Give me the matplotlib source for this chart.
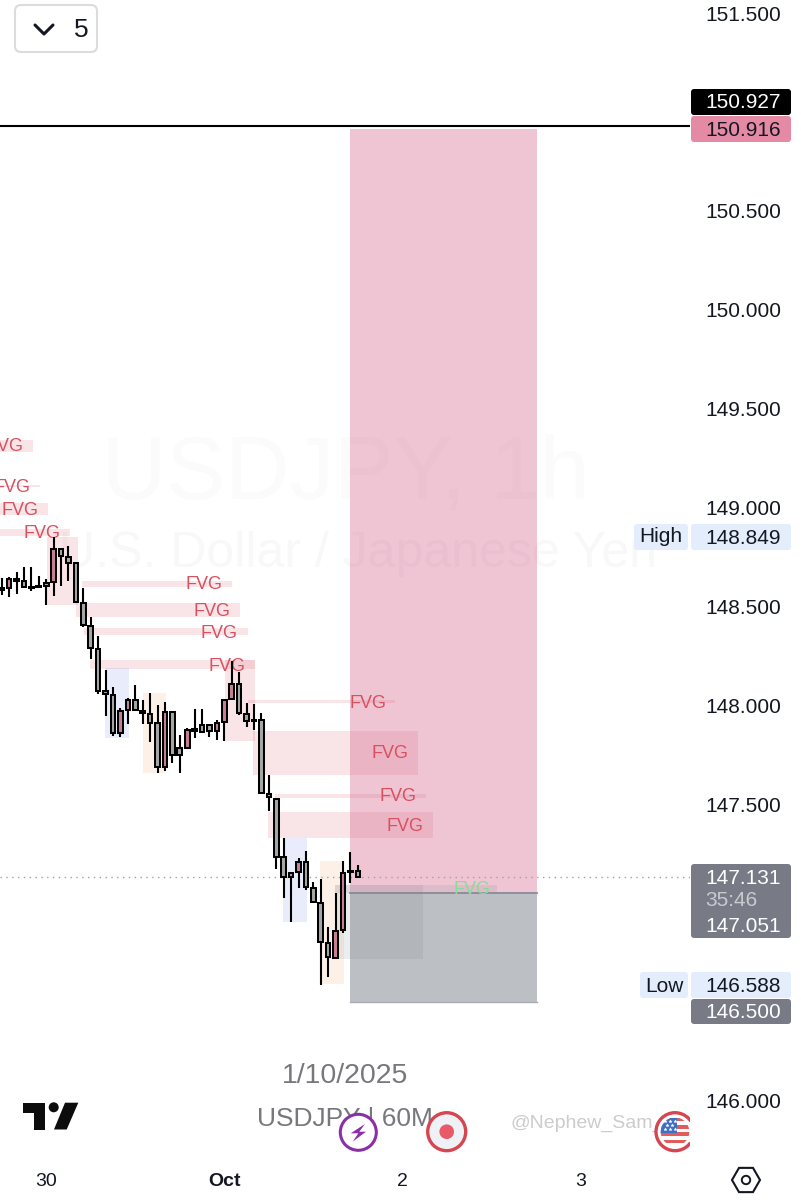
import numpy as np
import matplotlib
matplotlib.use("Agg")
import matplotlib.pyplot as plt
from matplotlib.patches import Rectangle, FancyBboxPatch, Circle, Polygon

plt.rcParams['font.family'] = ['Liberation Sans', 'DejaVu Sans']

# ---------------- DATA ----------------
bars = list(range(-30, 19))  # hourly bars, 0 = Oct 1 00:00
opens = [148.592, 148.592, 148.637, 148.627, 148.600, 148.604, 148.621, 148.622, 148.792, 148.750,
         148.718, 148.518, 148.403, 148.287, 148.071, 148.051, 147.862, 147.977, 148.027, 147.970,
         147.958, 147.909, 147.690, 147.968, 147.783, 147.786, 147.879, 147.901, 147.903, 147.872,
         147.914, 148.031, 148.108, 147.955, 147.928, 147.926, 147.552, 147.527, 147.232, 147.151,
         147.158, 147.207, 147.079, 147.003, 146.797, 146.723, 146.865, 147.161, 147.161]
highs = [148.642, 148.647, 148.676, 148.698, 148.698, 148.654, 148.637, 148.849, 148.794, 148.807,
         148.722, 148.595, 148.445, 148.351, 148.179, 148.095, 147.985, 148.039, 148.101, 148.027,
         148.064, 148.002, 148.019, 147.968, 147.850, 147.884, 147.980, 147.980, 147.906, 147.926,
         148.031, 148.226, 148.171, 148.014, 148.005, 147.960, 147.648, 147.530, 147.328, 147.151,
         147.227, 147.266, 147.109, 147.121, 146.878, 147.053, 147.213, 147.257, 147.193]
lows = [148.558, 148.550, 148.563, 148.595, 148.580, 148.600, 148.508, 148.555, 148.605, 148.631,
        148.519, 148.395, 148.233, 148.056, 147.948, 147.845, 147.839, 147.906, 147.973, 147.904,
        147.817, 147.660, 147.668, 147.710, 147.657, 147.778, 147.833, 147.867, 147.839, 147.825,
        147.820, 148.031, 147.951, 147.892, 147.876, 147.555, 147.468, 147.171, 147.028, 146.907,
        147.075, 147.067, 147.003, 146.588, 146.625, 146.716, 146.851, 147.100, 147.131]
closes = [148.583, 148.637, 148.631, 148.600, 148.592, 148.600, 148.604, 148.792, 148.755, 148.722,
          148.521, 148.408, 148.292, 148.075, 148.056, 147.859, 147.972, 148.027, 147.977, 147.963,
          147.913, 147.687, 147.968, 147.749, 147.749, 147.876, 147.872, 147.867, 147.872, 147.909,
          148.027, 148.108, 147.960, 147.921, 147.921, 147.559, 147.535, 147.235, 147.131, 147.131,
          147.208, 147.084, 147.006, 146.802, 146.726, 146.861, 147.151, 147.156, 147.134]

# zones: left bar, right bar, top price, bottom price
fvg_zones = [(-40, -25.8, 149.342, 149.283), (-40, -24.8, 149.114, 149.104), (-40, -23.8, 149.023, 148.963),
             (-40, -20.8, 148.892, 148.856), (-23.9, -19.7, 148.851, 148.508), (-19.2, 1.0, 148.630, 148.599),
             (-20, 2.1, 148.518, 148.447), (-18.9, 3.2, 148.391, 148.356), (-18.1, 4.1, 148.230, 148.184),
             (0.1, 4.1, 148.230, 147.820), (3.2, 23, 148.027, 148.012), (3.9, 26.1, 147.871, 147.648),
             (6.8, 27.2, 147.552, 147.532), (5.9, 28.1, 147.461, 147.330)]
blue_zones = [(-16.1, -12.8, 148.189, 147.835), (7.9, 11.1, 147.330, 146.905)]
orange_zones = [(-11, -7.9, 148.063, 147.658), (12.9, 16.1, 147.213, 146.592)]
gray_zones = [(14.9, 26.8, 147.092, 146.718), (14.9, 36.8, 147.092, 147.051)]
fvg_label_x = [-29.6, -28.6, -27.6, -24.6, -2.7, -1.7, -0.65, 0.36, 19.4, 22.3, 23.4, 24.4]
fvg_label_y = [149.308, 149.101, 148.985, 148.869, 148.611, 148.474, 148.363, 148.196, 148.009, 147.756, 147.539, 147.387]

stop_price = 150.916
entry_price = 147.051
target_price = 146.500
line_price = 150.927
last_price = 147.131
trade_left, trade_right = 17, 42.1

price_ticks = [151.5, 150.5, 150.0, 149.5, 149.0, 148.5, 148.0, 147.5, 146.0]
date_ticks = [-24, 0, 24, 48]
date_labels = ['30', 'Oct', '2', '3']

# ---------------- CHART ----------------
fig = plt.figure(figsize=(8.01, 12), dpi=100)
ax = fig.add_axes([0, 0, 690 / 801, 1])
ax.set_xlim((0 - 224.3) / 7.42, (690 - 224.3) / 7.42)
ax.set_ylim(146 - 99 / 197.8, 146 + 1101 / 197.8)
ax.axis('off')

# watermark
ax.text(16.3, 149.16, 'USDJPY, 1h', fontsize=64, color='#fbfbfb', ha='center', va='center', zorder=0)
ax.text(18, 148.765, 'U.S. Dollar / Japanese Yen', fontsize=36, color='#f8f8f8', ha='center', va='center', zorder=0)

def add_zones(zones, color, alpha, z=2):
    for left, right, top, bottom in zones:
        ax.add_patch(Rectangle((left, bottom), right - left, top - bottom, fc=color, ec='none', alpha=alpha, zorder=z))

add_zones(fvg_zones, '#dc5a6a', 0.16)
add_zones(blue_zones, '#5f7fe8', 0.14)
add_zones(orange_zones, '#f0903c', 0.12)

# long/short box
ax.add_patch(Rectangle((trade_left, entry_price), trade_right - trade_left, stop_price - entry_price,
                       fc='#d76e94', ec='none', alpha=0.4, zorder=3))
ax.add_patch(Rectangle((trade_left, target_price), trade_right - trade_left, entry_price - target_price,
                       fc='#7b818b', ec='none', alpha=0.5, zorder=3))
ax.plot([trade_left, trade_right], [entry_price, entry_price], color='#8a8d96', lw=1.3, zorder=3)
ax.plot([trade_left, trade_right], [target_price, target_price], color='#a8abb2', lw=1.0, zorder=3)
add_zones(gray_zones, '#7b818b', 0.14, z=3)

ax.axhline(line_price, color='black', lw=1.5, zorder=4)
ax.axhline(last_price, color='#a0a0a0', lw=1.0, ls=(0, (1, 3.2)), zorder=4)

for lx, ly in zip(fvg_label_x, fvg_label_y):
    ax.text(lx, ly, 'FVG', fontsize=13, color='#d9505f', ha='center', va='center', zorder=5)
ax.text(33.4, 147.069, 'FVG', fontsize=13, color='#86dd9a', ha='center', va='center', zorder=5)

# candles
x = np.array(bars)
o = np.array(opens)
c = np.array(closes)
body_colors = ['#c77f96' if cl >= op else '#a6a6a6' for op, cl in zip(opens, closes)]
ax.vlines(x, lows, highs, color='black', lw=1.5, zorder=6)
ax.bar(x, np.abs(c - o), bottom=np.minimum(o, c), width=0.62, color=body_colors, edgecolor='black', lw=1.45, zorder=7)

# ---------------- OVERLAY (pixel space) ----------------
ui = fig.add_axes([0, 0, 1, 1])
ui.set_xlim(0, 801)
ui.set_ylim(1200, 0)
ui.axis('off')
ui.patch.set_alpha(0)

def price_y(p):
    return ax.transData.transform((0, p))[1] * -1 + 1200

def box(x0, y0, x1, y1, color):
    ui.add_patch(FancyBboxPatch((x0 + 2, y0 + 2), x1 - x0 - 4, y1 - y0 - 4, boxstyle='round,pad=2,rounding_size=3',
                                fc=color, ec='none', zorder=2))

tick_kw = dict(fontsize=15, ha='center', va='center', zorder=3)
for p in price_ticks:
    ui.text(743.5, price_y(p) + 2, f'{p:.3f}', color='#131722', **tick_kw)

box(691, 89, 791, 115, '#000000')
ui.text(743.5, 103, f'{line_price:.3f}', color='white', **tick_kw)
box(691, 116, 791, 142, '#e58aa5')
ui.text(743.5, 130, f'{stop_price:.3f}', color='#131722', **tick_kw)

box(634, 524, 688, 550, '#e3edfb')
ui.text(661, 537, 'High', color='#131722', **tick_kw)
box(691, 524, 791, 550, '#e3edfb')
ui.text(743.5, 539, '148.849', color='#131722', **tick_kw)

box(691, 864, 791, 938, '#787b86')
ui.text(743.5, 878, '147.131', color='white', **tick_kw)
ui.text(731, 901, '35:46', color='#c9cacf', **tick_kw)
ui.text(743.5, 927, '147.051', color='white', **tick_kw)

box(640, 972, 688, 998, '#e3edfb')
ui.text(664, 986, 'Low', color='#131722', **tick_kw)
box(691, 972, 791, 998, '#e3edfb')
ui.text(743.5, 987, '146.588', color='#131722', **tick_kw)
box(691, 999, 791, 1024, '#787b86')
ui.text(743.5, 1013, '146.500', color='white', **tick_kw)

# time axis
for b, lab in zip(date_ticks, date_labels):
    px = ax.transData.transform((b, 146))[0]
    ui.text(px, 1181, lab, fontsize=14, color='#131722', ha='center', va='center',
            fontweight='bold' if lab == 'Oct' else 'normal')

# settings hexagon
ang = np.deg2rad(np.arange(0, 360, 60))
ui.add_patch(Polygon(np.c_[746 + 14 * np.cos(ang), 1180 + 14 * np.sin(ang)], closed=True, fc='white', ec='#131722', lw=1.5))
ui.add_patch(Circle((746, 1180), 4.2, fc='white', ec='#131722', lw=1.4))

# interval button
ui.add_patch(FancyBboxPatch((20, 10), 72, 37, boxstyle='round,pad=5,rounding_size=6', fc='white', ec='#dcdcdc', lw=1.5))
ui.plot([35, 44, 53], [25, 34, 25], color='#131722', lw=2.2, solid_capstyle='round')
ui.text(81, 30, '5', fontsize=19, color='#131722', ha='center', va='center')

# snapshot captions
ui.text(345, 1076, '1/10/2025', fontsize=20.5, color='#77787c', ha='center', va='center')
ui.text(345, 1119, 'USDJPY | 60M', fontsize=19, color='#77787c', ha='center', va='center')
ui.text(587, 1123, '@Nephew_Sam_', fontsize=14, color='#cccccc', ha='center', va='center')

# tradingview logo
ui.add_patch(Polygon([(22.7, 1102.7), (45, 1102.7), (45, 1129.5), (34, 1129.5), (34, 1112.7), (22.7, 1112.7)], closed=True, fc='#0c0c0c', ec='none'))
ui.add_patch(Circle((53.7, 1107.3), 5, fc='#0c0c0c', ec='none'))
ui.add_patch(Polygon([(65, 1102.7), (78.3, 1102.7), (66.7, 1129.5), (54, 1129.5)], closed=True, fc='#0c0c0c', ec='none'))

# event icons
ui.add_patch(Circle((358.3, 1132.3), 18, fc='white', ec='#8a2fa8', lw=2.2, zorder=5))
ui.add_patch(Polygon([(365, 1124), (350.7, 1133.3), (358.3, 1133.3), (352.7, 1141.7), (366, 1131.7), (359.3, 1131.7)],
                     closed=True, fc='#8a2fa8', ec='none', zorder=6))
ui.add_patch(Circle((446.7, 1131.7), 19, fc='#eef1f6', ec='#d64550', lw=2.4, zorder=5))
ui.add_patch(Circle((446.7, 1131.7), 7.3, fc='#e85a66', ec='none', zorder=6))

clip = Rectangle((640, 1100), 50, 70, transform=ui.transData)
ring = Circle((675, 1131.7), 19, fc='white', ec='#d64550', lw=2.4, zorder=5)
ui.add_patch(ring)
ring.set_clip_path(clip)
gap = ui.add_patch(Rectangle((685, 1122), 8, 20, fc='white', ec='none', zorder=5.5))
flag = Circle((675, 1131.7), 14.3, transform=ui.transData)
for i in range(4):
    s = ui.add_patch(Rectangle((660, 1117.5 + i * 7.4), 30, 3.6, fc='#e25c5c', ec='none', zorder=6))
    s.set_clip_path(flag)
canton = ui.add_patch(Rectangle((660, 1117.5), 17, 15.5, fc='#3f6fc4', ec='none', zorder=7))
canton.set_clip_path(flag)
star_x = [665, 670, 675, 667, 672, 665, 670, 675]
star_y = [1121, 1121, 1121, 1125, 1125, 1129, 1129, 1129]
ui.scatter(star_x, star_y, s=5, c='white', marker='*', linewidths=0.3, zorder=8)

fig.savefig('out.png', dpi=100)
